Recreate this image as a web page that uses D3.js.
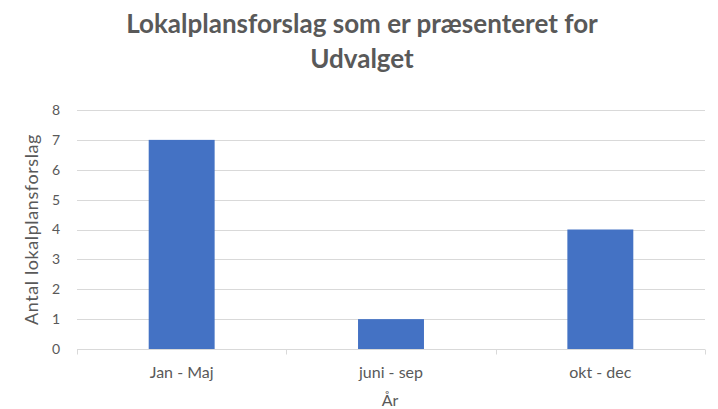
<!DOCTYPE html>
<html>
<head>
<meta charset="utf-8">
<script src="https://cdn.jsdelivr.net/npm/d3@7"></script>
<style>
  html, body { margin: 0; padding: 0; background: #fff; }
  svg { display: block; font-family: Lato, "Open Sans", sans-serif; }
</style>
</head>
<body>
<svg id="chart" width="718" height="409"></svg>
<script>
// Number of local plan proposals presented to the committee, per period
const categories = ["Jan - Maj", "juni - sep", "okt - dec"];
const values = [7, 1, 4];
const yTicks = [0, 1, 2, 3, 4, 5, 6, 7, 8];
const titleLines = ["Lokalplansforslag som er præsenteret for", "Udvalget"];
const xTitle = "År";
const yTitle = "Antal lokalplansforslag";

const svg = d3.select("#chart");
const margin = { left: 77, right: 13, top: 110, bottom: 60 };
const W = 718, H = 409;
const x0 = margin.left, x1 = W - margin.right;
const y0 = H - margin.bottom, y1 = margin.top;

const x = d3.scaleBand().domain(categories).range([x0, x1]).paddingInner(0.685).paddingOuter(0.3425);
const xb = d3.scaleBand().domain(categories).range([x0, x1]);
const y = d3.scaleLinear().domain([0, 8]).range([y0, y1]);

const textColor = "#595959";
const gridColor = "#d9d9d9";

// Title
svg.append("g").selectAll("text").data(titleLines).join("text")
  .attr("x", 362).attr("y", (d, i) => 33 + i * 35)
  .attr("text-anchor", "middle")
  .attr("font-size", 26).attr("font-weight", "bold")
  .attr("fill", textColor)
  .text(d => d);

// Horizontal gridlines
svg.append("g").selectAll("line").data(yTicks.filter(t => t > 0)).join("line")
  .attr("x1", x0).attr("x2", x1)
  .attr("y1", d => Math.round(y(d)) + 0.5).attr("y2", d => Math.round(y(d)) + 0.5)
  .attr("stroke", gridColor).attr("stroke-width", 1);

// Y axis labels
const yAxis = d3.axisLeft(y).tickValues(yTicks).tickSize(0).tickPadding(17).tickFormat(d3.format("d"));
const gy = svg.append("g").attr("transform", `translate(${x0},0)`).call(yAxis);
gy.select(".domain").remove();
gy.selectAll("text").attr("fill", textColor).attr("font-size", 14).attr("font-family", "Lato, 'Open Sans', sans-serif");

// Bars
svg.append("g").selectAll("rect").data(values).join("rect")
  .attr("x", (d, i) => x(categories[i]))
  .attr("width", x.bandwidth())
  .attr("y", d => y(d))
  .attr("height", d => y(0) - y(d))
  .attr("fill", "#4472c4");

// X axis line with category separators
const gx = svg.append("g").attr("transform", `translate(0,${Math.round(y0) + 0.5})`);
gx.append("line").attr("x1", x0).attr("x2", x1).attr("stroke", gridColor);
const seps = [x0].concat(categories.map(c => xb(c) + xb.bandwidth()));
gx.selectAll("line.sep").data(seps).join("line").attr("class", "sep")
  .attr("x1", d => Math.round(d) + 0.5).attr("x2", d => Math.round(d) + 0.5)
  .attr("y1", 0).attr("y2", 5).attr("stroke", gridColor);
gx.selectAll("text").data(categories).join("text")
  .attr("x", d => xb(d) + xb.bandwidth() / 2)
  .attr("y", 28)
  .attr("text-anchor", "middle")
  .attr("font-size", 16).attr("fill", textColor)
  .text(d => d);

// Axis titles
svg.append("text").attr("x", 390).attr("y", 406)
  .attr("text-anchor", "middle").attr("font-size", 16).attr("fill", textColor).text(xTitle);
svg.append("text")
  .attr("transform", `translate(38,${(y0 + y1) / 2 + 0}) rotate(-90)`)
  .attr("text-anchor", "middle").attr("font-size", 18).attr("letter-spacing", 0.6)
  .attr("fill", textColor).text(yTitle);
</script>
</body>
</html>
